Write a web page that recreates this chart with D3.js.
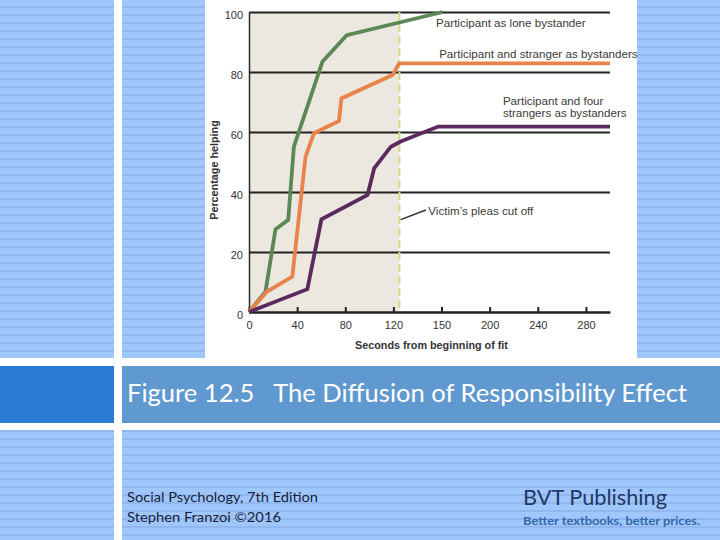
<!DOCTYPE html>
<html>
<head>
<meta charset="utf-8">
<script src="https://cdn.jsdelivr.net/npm/d3@7"></script>
<style>
  html, body { margin: 0; padding: 0; background: #ffffff; }
  svg { display: block; }
</style>
</head>
<body>
<script>
// ---------- data ----------
const loneSeconds   = [0, 13.7, 22, 32.6, 37.3, 61, 81.2, 161];
const loneHelping   = [0, 6.8, 27.6, 30.7, 55.1, 83.4, 92.3, 100];

const twoSeconds    = [0, 15, 36, 47, 54, 74.8, 76.8, 119.3, 124.8, 300];
const twoHelping    = [0, 6.8, 11.8, 51.8, 59.6, 63.7, 71.2, 79, 82.9, 82.9];

const fiveSeconds   = [0, 48.5, 60.2, 98.5, 104, 117.9, 126, 157.3, 300];
const fiveHelping   = [0, 7.6, 30.9, 39, 47.9, 55.1, 56.8, 61.8, 61.8];

const seriesNames   = ["Participant as lone bystander",
                       "Participant and stranger as bystanders",
                       "Participant and four strangers as bystanders"];

const xTickValues   = [0, 40, 80, 120, 160, 200, 240, 280];
const xTickLabels   = ["0", "40", "80", "120", "150", "200", "240", "280"];
const yTickValues   = [0, 20, 40, 60, 80, 100];
const pleasCutOff   = 125;   // seconds
const xMax          = 300;

const titleText     = "Figure 12.5   The Diffusion of Responsibility Effect";
const footLeft      = ["Social Psychology, 7th Edition", "Stephen Franzoi \u00A92016"];
const footRight     = ["BVT Publishing", "Better textbooks, better prices."];

// ---------- canvas ----------
const W = 720, H = 540;
const svg = d3.select("body").append("svg").attr("width", W).attr("height", H);

// striped blue background pattern
const defs = svg.append("defs");
const pat = defs.append("pattern").attr("id", "stripes")
  .attr("patternUnits", "userSpaceOnUse").attr("width", 8).attr("height", 8);
pat.append("rect").attr("width", 8).attr("height", 8).attr("fill", "#a0c7fc");
pat.append("rect").attr("y", 6).attr("width", 8).attr("height", 2).attr("fill", "#91b7ee");

svg.append("rect").attr("width", W).attr("height", H).attr("fill", "#ffffff");
const blocks = [
  [0, 0, 114, 358], [122, 0, 83, 358], [637, 0, 83, 358],
  [0, 430, 114, 110], [122, 430, 598, 110]
];
svg.selectAll("rect.bg").data(blocks).enter().append("rect")
  .attr("class", "bg")
  .attr("x", d => d[0]).attr("y", d => d[1]).attr("width", d => d[2]).attr("height", d => d[3])
  .attr("fill", "url(#stripes)");

// title bar
svg.append("rect").attr("x", 0).attr("y", 366).attr("width", 114).attr("height", 57).attr("fill", "#2a7bd3");
svg.append("rect").attr("x", 122).attr("y", 366).attr("width", 598).attr("height", 57).attr("fill", "#6099cf");
svg.append("text").attr("x", 127).attr("y", 402)
  .attr("font-family", "Lato, 'Open Sans', sans-serif").attr("font-size", 25)
  .attr("fill", "#ffffff")
  .attr("textLength", 560).attr("lengthAdjust", "spacingAndGlyphs")
  .style("white-space", "pre")
  .text(titleText);

// footer
svg.append("text").attr("x", 127).attr("y", 502)
  .attr("font-family", "Lato, 'Open Sans', sans-serif").attr("font-size", 13.5)
  .attr("fill", "#16223a").attr("textLength", 191).attr("lengthAdjust", "spacingAndGlyphs")
  .text(footLeft[0]);
svg.append("text").attr("x", 127).attr("y", 522)
  .attr("font-family", "Lato, 'Open Sans', sans-serif").attr("font-size", 13.5)
  .attr("fill", "#16223a").attr("textLength", 154).attr("lengthAdjust", "spacingAndGlyphs")
  .text(footLeft[1]);
svg.append("text").attr("x", 523).attr("y", 505)
  .attr("font-family", "Lato, 'Open Sans', sans-serif").attr("font-size", 21)
  .attr("fill", "#1f3864").attr("textLength", 144).attr("lengthAdjust", "spacingAndGlyphs")
  .text(footRight[0]);
svg.append("text").attr("x", 523).attr("y", 525)
  .attr("font-family", "Lato, 'Open Sans', sans-serif").attr("font-size", 12).attr("font-weight", "bold")
  .attr("fill", "#3468ab").attr("textLength", 177).attr("lengthAdjust", "spacingAndGlyphs")
  .text(footRight[1]);

// ---------- chart ----------
const x = d3.scaleLinear().domain([0, xMax]).range([249, 610]);
const y = d3.scaleLinear().domain([0, 100]).range([312, 12]);
const chartFont = "'Liberation Sans', Arial, Helvetica, sans-serif";

// shaded period before pleas cut off
svg.append("rect")
  .attr("x", x(0)).attr("y", y(100))
  .attr("width", x(pleasCutOff) - x(0)).attr("height", y(0) - y(100))
  .attr("fill", "#ece7df");

// y axis with gridlines
const yAxis = d3.axisLeft(y).tickValues(yTickValues)
  .tickSizeInner(-(x(xMax) - x(0))).tickSizeOuter(0).tickPadding(6);
const gy = svg.append("g").attr("transform", `translate(${x(0)},0)`).call(yAxis);
gy.select(".domain").attr("stroke", "#2a2a2a").attr("stroke-width", 1.5);
gy.selectAll(".tick line").attr("stroke", "#222").attr("stroke-width", 2);
gy.selectAll(".tick text").attr("font-family", chartFont).attr("font-size", 11)
  .attr("fill", "#333").attr("dy", "0.62em");

// dashed cut-off line
svg.append("line")
  .attr("x1", x(pleasCutOff)).attr("x2", x(pleasCutOff))
  .attr("y1", y(100)).attr("y2", y(0))
  .attr("stroke", "#d3da8a").attr("stroke-width", 2).attr("stroke-dasharray", "8,4");

// x axis
const xAxis = d3.axisBottom(x).tickValues(xTickValues)
  .tickFormat((d, i) => xTickLabels[i])
  .tickSizeInner(-5).tickSizeOuter(0).tickPadding(9);
const gx = svg.append("g").attr("transform", `translate(0,${y(0)})`).call(xAxis);
gx.select(".domain").attr("stroke", "#222").attr("stroke-width", 2);
gx.selectAll(".tick line").attr("stroke", "#222").attr("stroke-width", 2);
gx.selectAll(".tick text").attr("font-family", chartFont).attr("font-size", 11).attr("fill", "#333");

// axis titles
svg.append("text")
  .attr("x", (x(0) + x(xMax)) / 2 + 2).attr("y", 349)
  .attr("text-anchor", "middle")
  .attr("font-family", chartFont).attr("font-size", 10.8).attr("font-weight", "bold").attr("fill", "#333")
  .text("Seconds from beginning of fit");
svg.append("text")
  .attr("transform", `translate(218,${(y(0) + y(100)) / 2 + 8}) rotate(-90)`)
  .attr("text-anchor", "middle")
  .attr("font-family", chartFont).attr("font-size", 10.8).attr("font-weight", "bold").attr("fill", "#333")
  .text("Percentage helping");

// lines
const series = [
  { name: seriesNames[0], xs: loneSeconds, ys: loneHelping, color: "#5d8856" },
  { name: seriesNames[1], xs: twoSeconds,  ys: twoHelping,  color: "#e8834b" },
  { name: seriesNames[2], xs: fiveSeconds, ys: fiveHelping, color: "#5a2a5e" }
];
const line = d3.line().x(d => x(d[0])).y(d => y(d[1]));
svg.selectAll("path.series").data(series).enter().append("path")
  .attr("class", "series")
  .attr("d", s => line(s.xs.map((v, i) => [v, s.ys[i]])))
  .attr("fill", "none").attr("stroke", s => s.color)
  .attr("stroke-width", 3.8).attr("stroke-linejoin", "miter").attr("stroke-miterlimit", 3);

// labels
const annot = svg.append("g").attr("font-family", chartFont).attr("font-size", 11.6).attr("fill", "#3a3a3a");
annot.append("text").attr("x", x(155.5)).attr("y", y(95)).text(seriesNames[0]);
annot.append("text").attr("x", x(158)).attr("y", y(84.7)).text(seriesNames[1]);
annot.append("text").attr("x", x(211)).attr("y", y(69)).text("Participant and four");
annot.append("text").attr("x", x(211)).attr("y", y(65.1)).text("strangers as bystanders");
annot.append("text").attr("x", x(149)).attr("y", y(32.3)).text("Victim\u2019s pleas cut off");
annot.append("line")
  .attr("x1", x(126)).attr("y1", y(30.8)).attr("x2", x(147)).attr("y2", y(34))
  .attr("stroke", "#333").attr("stroke-width", 1.5);
</script>
</body>
</html>
